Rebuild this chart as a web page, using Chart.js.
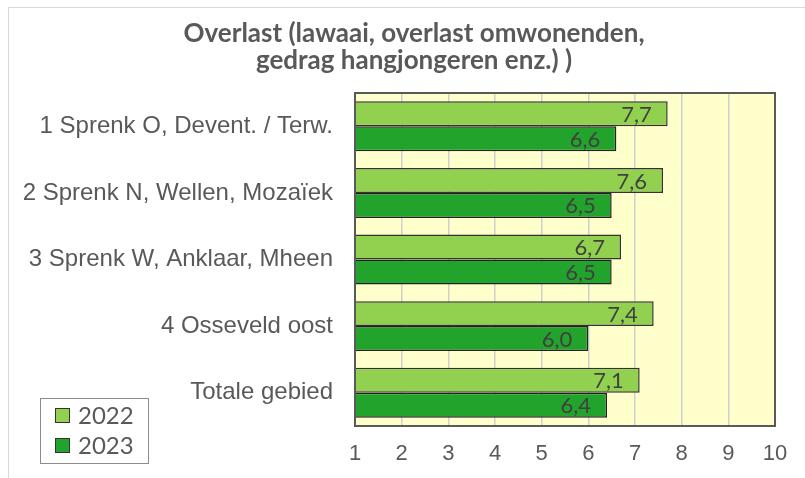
<!DOCTYPE html>
<html>
<head>
<meta charset="utf-8">
<script src="https://cdn.jsdelivr.net/npm/chart.js@4/dist/chart.umd.min.js"></script>
<style>
  html, body { margin: 0; padding: 0; background: #ffffff; }
  #wrap { width: 805px; height: 478px; position: relative; }
</style>
</head>
<body>
<div id="wrap"><canvas id="overlastChart"></canvas></div>
<script>
// Data
const categories = [
    '1 Sprenk O, Devent. / Terw.',
    '2 Sprenk N, Wellen, Mozaïek',
    '3 Sprenk W, Anklaar, Mheen',
    '4 Osseveld oost',
    'Totale gebied'
];
const seriesNames = ['2022', '2023'];
const values2022 = [7.7, 7.6, 6.7, 7.4, 7.1];
const values2023 = [6.6, 6.5, 6.5, 6.0, 6.4];
const xTicks = [1, 2, 3, 4, 5, 6, 7, 8, 9, 10];
const titleLines = ['Overlast (lawaai, overlast omwonenden,', 'gedrag hangjongeren enz.) )'];

const lightGreen = '#92D050';
const darkGreen = '#22A32B';
const textGray = '#595959';

// Yellow plot background, frame, outer border and title
const backgroundPlugin = {
    id: 'plotBackground',
    beforeDraw(chart) {
        const { ctx, chartArea } = chart;
        ctx.save();
        ctx.fillStyle = '#FFFFCC';
        ctx.fillRect(chartArea.left, chartArea.top, chartArea.right - chartArea.left, chartArea.bottom - chartArea.top);
        ctx.strokeStyle = '#D9D9D9';
        ctx.lineWidth = 1;
        ctx.strokeRect(8.5, 7.5, 900, 600);

        // title, centred above the chart like the original
        ctx.fillStyle = textGray;
        ctx.font = "bold 26px Lato, 'Open Sans', sans-serif";
        ctx.textAlign = 'center';
        ctx.textBaseline = 'alphabetic';
        titleLines.forEach(function(line, i) {
            ctx.fillText(line, 414, 42 + i * 27);
        });
        ctx.restore();
    },
    afterDraw(chart) {
        const { ctx, chartArea } = chart;
        ctx.save();
        ctx.strokeStyle = '#595959';
        ctx.lineWidth = 2;
        ctx.strokeRect(chartArea.left, chartArea.top, chartArea.right - chartArea.left, chartArea.bottom - chartArea.top);
        ctx.restore();
    }
};

// Value labels inside the end of each bar
const valueLabelPlugin = {
    id: 'valueLabels',
    afterDatasetsDraw(chart) {
        const ctx = chart.ctx;
        ctx.save();
        ctx.font = "22px Lato, 'Open Sans', sans-serif";
        ctx.fillStyle = '#404040';
        ctx.textAlign = 'right';
        ctx.textBaseline = 'middle';
        chart.data.datasets.forEach(function(ds, i) {
            const meta = chart.getDatasetMeta(i);
            meta.data.forEach(function(bar, j) {
                const txt = ds.data[j].toFixed(1).replace('.', ',');
                ctx.fillText(txt, bar.x - 16, bar.y + 1);
            });
        });
        ctx.restore();
    }
};

// Boxed legend at bottom left
const boxLegendPlugin = {
    id: 'boxLegend',
    afterDraw(chart) {
        const ctx = chart.ctx;
        ctx.save();
        ctx.strokeStyle = '#8C8C8C';
        ctx.lineWidth = 1;
        ctx.strokeRect(40.5, 398.5, 108, 65);
        chart.data.datasets.forEach(function(ds, i) {
            const y = 408 + i * 30;
            ctx.fillStyle = ds.backgroundColor;
            ctx.fillRect(55, y, 15, 15);
            ctx.strokeStyle = '#333333';
            ctx.strokeRect(55.5, y + 0.5, 14, 14);
            ctx.fillStyle = textGray;
            ctx.font = "24px Lato, 'Open Sans', sans-serif";
            ctx.textAlign = 'left';
            ctx.textBaseline = 'middle';
            ctx.fillText(ds.label, 78, y + 8);
        });
        ctx.restore();
    }
};

const overlastConfig = {
    type: 'bar',
    data: {
        labels: categories,
        datasets: [{
            label: seriesNames[0],
            data: values2022,
            backgroundColor: lightGreen,
            borderColor: '#333333',
            borderWidth: 1.5,
            base: 1,
            categoryPercentage: 0.75,
            barPercentage: 1.0
        }, {
            label: seriesNames[1],
            data: values2023,
            backgroundColor: darkGreen,
            borderColor: '#222222',
            borderWidth: 1.5,
            base: 1,
            categoryPercentage: 0.75,
            barPercentage: 1.0
        }]
    },
    options: {
        indexAxis: 'y',
        responsive: true,
        maintainAspectRatio: false,
        animation: false,
        layout: {
            padding: { left: 0, right: 30, top: 93, bottom: 0 }
        },
        plugins: {
            legend: { display: false },
            tooltip: { enabled: false },
            title: { display: false }
        },
        scales: {
            x: {
                type: 'linear',
                min: 1,
                max: 10,
                afterBuildTicks: function(scale) {
                    scale.ticks = xTicks.map(function(v) { return { value: v }; });
                },
                afterFit: function(scale) {
                    scale.height = 52;
                },
                grid: {
                    color: '#D0D0D0',
                    lineWidth: 1.5,
                    drawTicks: false
                },
                border: { display: false },
                ticks: {
                    padding: 15,
                    color: textGray,
                    font: { family: "'Liberation Sans', Arial, sans-serif", size: 22 }
                }
            },
            y: {
                afterFit: function(scale) {
                    scale.width = 355;
                },
                grid: { display: false, drawTicks: false },
                border: { display: false },
                ticks: {
                    padding: 22,
                    color: textGray,
                    font: { family: "'Liberation Sans', Arial, sans-serif", size: 24 }
                }
            }
        }
    },
    plugins: [backgroundPlugin, valueLabelPlugin, boxLegendPlugin]
};

document.addEventListener('DOMContentLoaded', function() {
    const ctx = document.getElementById('overlastChart');
    if (ctx) {
        new Chart(ctx, overlastConfig);
    }
});
</script>
</body>
</html>
